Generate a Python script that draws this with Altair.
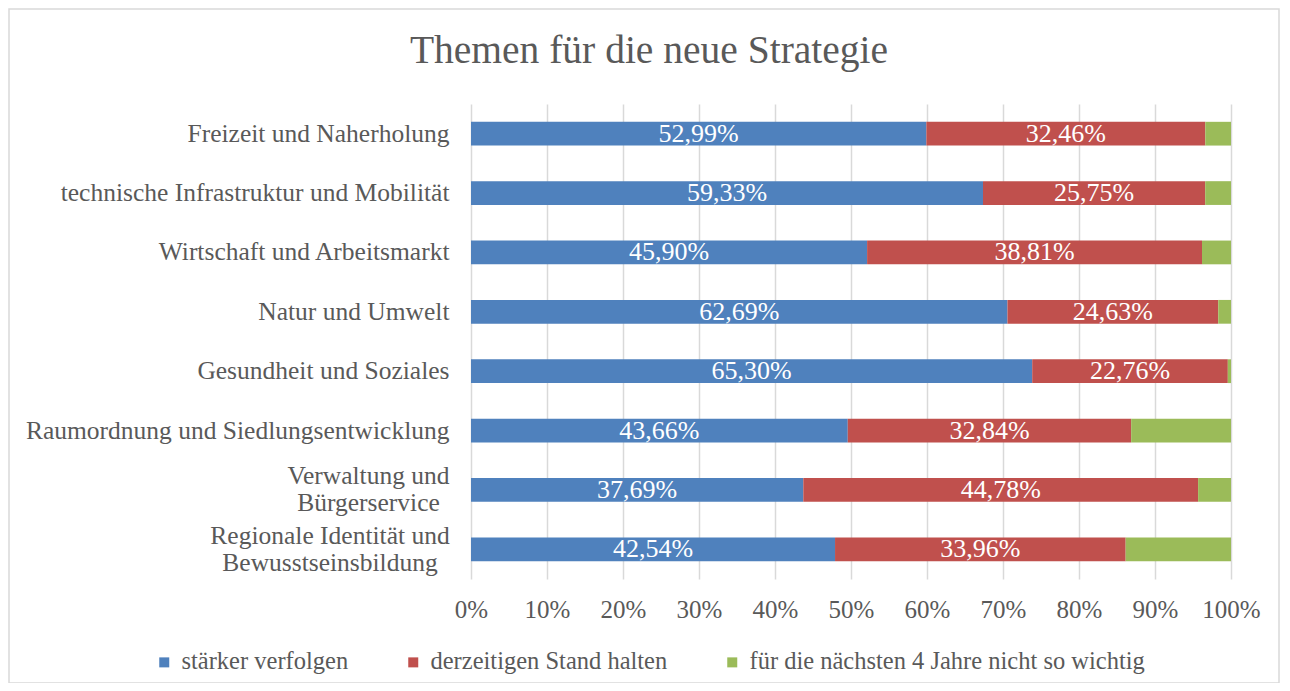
import altair as alt
import pandas as pd

title_text = "Themen für die neue Strategie"
categories = [
    "Freizeit und Naherholung",
    "technische Infrastruktur und Mobilität",
    "Wirtschaft und Arbeitsmarkt",
    "Natur und Umwelt",
    "Gesundheit und Soziales",
    "Raumordnung und Siedlungsentwicklung",
    "Verwaltung und|Bürgerservice",
    "Regionale Identität und|Bewusstseinsbildung",
]
series = ["stärker verfolgen", "derzeitigen Stand halten", "für die nächsten 4 Jahre nicht so wichtig"]
staerker = [52.99, 59.33, 45.90, 62.69, 65.30, 43.66, 37.69, 42.54]
halten = [32.46, 25.75, 38.81, 24.63, 22.76, 32.84, 44.78, 33.96]
nicht_wichtig = [2.99, 2.99, 3.36, 1.49, 0.37, 11.57, 3.73, 12.31]
colors = ["#4F81BD", "#C0504D", "#9BBB59"]

rows = []
for i, c in enumerate(categories):
    for j, (s, vals) in enumerate(zip(series, [staerker, halten, nicht_wichtig])):
        v = vals[i]
        rows.append({"cat": c, "series": s, "order": j, "value": v,
                     "label": f"{v:.2f}%".replace(".", ",")})
df = pd.DataFrame(rows)

FONT = "Liberation Serif"
GREY = "#595959"

base = alt.Chart(df).transform_stack(
    stack="value", as_=["x0", "x1"], groupby=["cat"],
    sort=[alt.SortField("order", order="ascending")], offset="normalize"
).transform_calculate(mid="(datum.x0 + datum.x1) / 2")

multi = "indexof(datum.value, '|') >= 0"
ycat = alt.Y("cat:N", sort=categories, title=None,
             scale=alt.Scale(paddingInner=0.6, paddingOuter=0.3),
             axis=alt.Axis(labelExpr="split(datum.label, '|')", labelFont=FONT,
                           labelFontSize=25.5, labelColor=GREY, labelLineHeight=27,
                           labelOffset={"condition": {"test": multi, "value": -13.5}, "value": 0},
                           labelAlign={"condition": {"test": multi, "value": "center"}, "value": "right"},
                           labelPadding={"condition": [
                               {"test": "indexof(datum.value, 'Verwaltung') >= 0", "value": 103},
                               {"test": "indexof(datum.value, 'Regionale') >= 0", "value": 141.5}],
                               "value": 22},
                           ticks=False, domain=False, labelLimit=600))

xscale = alt.Scale(domain=[0, 1], nice=False)

bars = base.mark_bar().encode(
    y=ycat,
    x=alt.X("x0:Q", scale=xscale, title=None,
            axis=alt.Axis(values=[i / 10 for i in range(11)], format=".0%",
                          labelFont=FONT, labelFontSize=25, labelColor=GREY,
                          labelOverlap=False, labelBound=False, labelFlush=False,
                          ticks=False, domain=False, labelPadding=18,
                          grid=True, gridColor="#d9d9d9", gridWidth=1.5)),
    x2="x1:Q",
    color=alt.Color("series:N", sort=series,
                    scale=alt.Scale(domain=series, range=colors),
                    legend=alt.Legend(title=None, orient="none", direction="horizontal",
                                      legendX=-319, legendY=546, symbolType="square",
                                      symbolSize=100, symbolStrokeWidth=0,
                                      labelFont=FONT, labelFontSize=24.5, labelColor=GREY,
                                      labelLimit=600, columnPadding=52, labelOffset=5)),
)

texts = base.transform_filter("datum.order < 2").mark_text(
    color="white", font=FONT, fontSize=26, baseline="middle", align="center"
).encode(y=alt.Y("cat:N", sort=categories), x=alt.X("mid:Q", scale=xscale), text="label:N")

border = alt.Chart(pd.DataFrame({"a": [0]})).mark_rect(
    fill=None, stroke="#d9d9d9", strokeWidth=1.5
).encode(x=alt.value(-462), x2=alt.value(808), y=alt.value(-95), y2=alt.value(579))

title = alt.Chart(pd.DataFrame({"t": [title_text]})).mark_text(
    font=FONT, fontSize=39.5, color=GREY, align="center", baseline="alphabetic"
).encode(text="t:N", x=alt.value(178), y=alt.value(-41))

chart = alt.layer(border, bars, texts, title).properties(
    width=760, height=475,
    autosize=alt.AutoSizeParams(type="none"),
    padding={"left": 463, "top": 96, "right": 49, "bottom": 104},
).configure_view(stroke=None)

chart.save("out.html", embed_options={"renderer": "svg", "actions": False})
